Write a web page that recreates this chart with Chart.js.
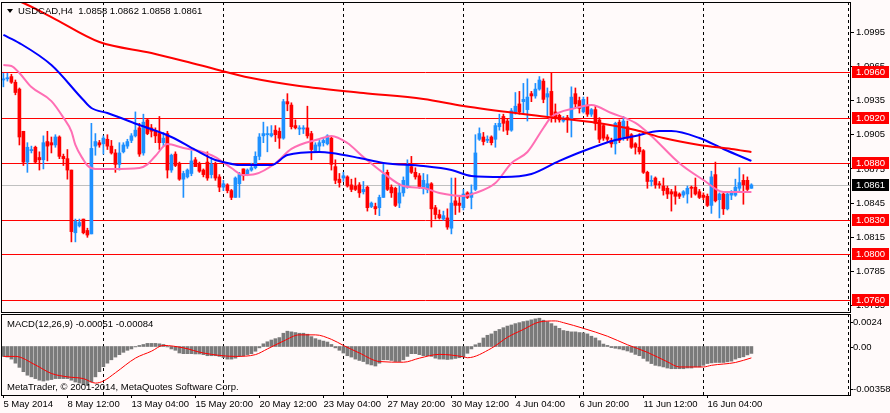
<!DOCTYPE html>
<html>
<head>
<meta charset="utf-8">
<title>USDCAD,H4</title>
<script src="https://cdn.jsdelivr.net/npm/chart.js@4.4.1/dist/chart.umd.min.js"></script>
<style>
  html, body { margin: 0; padding: 0; background: #fffafa; }
  #wrap { position: relative; width: 890px; height: 413px; overflow: hidden; background: #fffafa; }
  #priceChart { position: absolute; left: 0; top: 0; }
  #macdChart { position: absolute; left: 0; top: 313px; }
</style>
</head>
<body>
<div id="wrap">
  <canvas id="priceChart" width="890" height="313"></canvas>
  <canvas id="macdChart" width="890" height="100"></canvas>
</div>
<script>
// USDCAD H4 candles (one entry per bar)
const opens = [
  1.0953,1.0954,1.0956,1.0951,1.0945,1.0908,1.0881,1.0891,1.0894,1.0885,
  1.0883,1.0899,1.0898,1.0896,1.0903,1.0886,1.0884,1.0874,1.0819,1.0825,
  1.0831,1.0821,1.0818,1.0895,1.0898,1.0897,1.0901,1.0895,1.0889,1.0879,
  1.0890,1.0895,1.0900,1.0904,1.0911,1.0889,1.0918,1.0911,1.0908,1.0906,
  1.0898,1.0906,1.0874,1.0888,1.0880,1.0866,1.0868,1.0871,1.0883,1.0879,
  1.0874,1.0881,1.0870,1.0879,1.0868,1.0859,1.0861,1.0856,1.0850,1.0862,
  1.0875,1.0870,1.0874,1.0876,1.0886,1.0904,1.0905,1.0904,1.0909,1.0908,
  1.0902,1.0934,1.0931,1.0913,1.0910,1.0910,1.0911,1.0906,1.0891,1.0895,
  1.0898,1.0897,1.0902,1.0877,1.0866,1.0867,1.0868,1.0861,1.0860,1.0861,
  1.0855,1.0859,1.0842,1.0842,1.0841,1.0850,1.0872,1.0859,1.0858,1.0845,
  1.0854,1.0859,1.0877,1.0872,1.0869,1.0858,1.0857,1.0862,1.0841,1.0835,
  1.0831,1.0832,1.0823,1.0847,1.0845,1.0841,1.0854,1.0850,1.0857,1.0901,
  1.0903,1.0900,1.0903,1.0901,1.0912,1.0921,1.0917,1.0909,1.0925,1.0932,
  1.0934,1.0927,1.0941,1.0939,1.0945,1.0952,1.0938,1.0943,1.0925,1.0922,
  1.0917,1.0920,1.0918,1.0941,1.0935,1.0925,1.0931,1.0923,1.0927,1.0918,
  1.0913,1.0903,1.0900,1.0897,1.0916,1.0903,1.0912,1.0905,1.0897,1.0894,
  1.0891,1.0872,1.0864,1.0867,1.0862,1.0860,1.0858,1.0855,1.0855,1.0853,
  1.0852,1.0853,1.0859,1.0859,1.0855,1.0852,1.0851,1.0843,1.0870,1.0848,
  1.0853,1.0840,1.0852,1.0852,1.0858,1.0865,1.0865,1.0858
];
const highs = [
  1.0959,1.0959,1.0958,1.0953,1.0946,1.0908,1.0898,1.0895,1.0895,1.0890,
  1.0904,1.0908,1.0903,1.0905,1.0904,1.0888,1.0892,1.0874,1.0831,1.0831,
  1.0831,1.0823,1.0915,1.0906,1.0900,1.0904,1.0905,1.0900,1.0892,1.0898,
  1.0898,1.0901,1.0906,1.0925,1.0915,1.0923,1.0919,1.0914,1.0911,1.0921,
  1.0907,1.0908,1.0888,1.0890,1.0881,1.0873,1.0875,1.0891,1.0885,1.0881,
  1.0875,1.0890,1.0885,1.0881,1.0870,1.0865,1.0862,1.0857,1.0868,1.0872,
  1.0875,1.0875,1.0880,1.0890,1.0906,1.0916,1.0912,1.0913,1.0913,1.0911,
  1.0936,1.0941,1.0933,1.0918,1.0913,1.0913,1.0930,1.0908,1.0898,1.0900,
  1.0902,1.0905,1.0903,1.0883,1.0871,1.0872,1.0869,1.0866,1.0867,1.0863,
  1.0864,1.0860,1.0846,1.0845,1.0852,1.0880,1.0874,1.0861,1.0859,1.0862,
  1.0868,1.0883,1.0886,1.0876,1.0871,1.0871,1.0870,1.0863,1.0843,1.0839,
  1.0838,1.0840,1.0867,1.0867,1.0850,1.0857,1.0855,1.0861,1.0905,1.0911,
  1.0907,1.0904,1.0904,1.0915,1.0923,1.0923,1.0919,1.0928,1.0942,1.0943,
  1.0950,1.0954,1.0943,1.0950,1.0956,1.0954,1.0946,1.0959,1.0932,1.0923,
  1.0921,1.0922,1.0947,1.0946,1.0938,1.0938,1.0938,1.0928,1.0930,1.0920,
  1.0914,1.0905,1.0902,1.0916,1.0918,1.0921,1.0917,1.0906,1.0898,1.0906,
  1.0892,1.0873,1.0869,1.0868,1.0864,1.0867,1.0860,1.0857,1.0860,1.0854,
  1.0856,1.0860,1.0860,1.0867,1.0857,1.0854,1.0853,1.0873,1.0881,1.0854,
  1.0854,1.0854,1.0856,1.0866,1.0876,1.0870,1.0868,1.0862
];
const lows = [
  1.0947,1.0952,1.0950,1.0940,1.0896,1.0878,1.0872,1.0889,1.0880,1.0874,
  1.0875,1.0882,1.0889,1.0894,1.0884,1.0878,1.0866,1.0811,1.0811,1.0824,
  1.0818,1.0815,1.0818,1.0887,1.0894,1.0888,1.0892,1.0888,1.0872,1.0874,
  1.0889,1.0893,1.0898,1.0903,1.0886,1.0887,1.0905,1.0903,1.0898,1.0892,
  1.0895,1.0867,1.0872,1.0877,1.0865,1.0850,1.0867,1.0869,1.0877,1.0872,
  1.0868,1.0865,1.0867,1.0865,1.0855,1.0856,1.0854,1.0848,1.0850,1.0850,
  1.0865,1.0869,1.0873,1.0875,1.0883,1.0898,1.0890,1.0903,1.0899,1.0893,
  1.0901,1.0926,1.0910,1.0910,1.0905,1.0906,1.0902,1.0883,1.0890,1.0891,
  1.0895,1.0896,1.0874,1.0862,1.0859,1.0864,1.0859,1.0855,1.0856,1.0850,
  1.0853,1.0838,1.0841,1.0835,1.0834,1.0850,1.0856,1.0850,1.0842,1.0841,
  1.0851,1.0858,1.0871,1.0866,1.0858,1.0853,1.0854,1.0824,1.0831,1.0831,
  1.0830,1.0822,1.0818,1.0835,1.0837,1.0839,1.0849,1.0840,1.0856,1.0900,
  1.0896,1.0898,1.0896,1.0894,1.0909,1.0908,1.0905,1.0908,1.0923,1.0923,
  1.0924,1.0917,1.0934,1.0937,1.0944,1.0933,1.0921,1.0916,1.0916,1.0916,
  1.0916,1.0907,1.0903,1.0929,1.0924,1.0924,1.0921,1.0921,1.0909,1.0898,
  1.0900,1.0898,1.0894,1.0888,1.0898,1.0900,1.0900,1.0893,1.0888,1.0888,
  1.0871,1.0858,1.0860,1.0858,1.0858,1.0852,1.0849,1.0838,1.0844,1.0849,
  1.0850,1.0845,1.0850,1.0852,1.0849,1.0848,1.0842,1.0836,1.0846,1.0832,
  1.0835,1.0839,1.0848,1.0851,1.0856,1.0844,1.0856,1.0858
];
const closes = [
  1.0954,1.0955,1.0951,1.0942,1.0903,1.0881,1.0894,1.0892,1.0881,1.0883,
  1.0898,1.0895,1.0896,1.0903,1.0886,1.0884,1.0874,1.0820,1.0829,1.0828,
  1.0819,1.0817,1.0893,1.0899,1.0896,1.0902,1.0895,1.0889,1.0879,1.0889,
  1.0896,1.0899,1.0904,1.0909,1.0888,1.0916,1.0906,1.0908,1.0904,1.0898,
  1.0902,1.0874,1.0887,1.0878,1.0866,1.0871,1.0874,1.0882,1.0877,1.0873,
  1.0870,1.0867,1.0879,1.0867,1.0859,1.0862,1.0856,1.0850,1.0867,1.0870,
  1.0869,1.0874,1.0876,1.0886,1.0903,1.0906,1.0906,1.0906,1.0905,1.0902,
  1.0934,1.0932,1.0912,1.0911,1.0911,1.0911,1.0904,1.0892,1.0896,1.0898,
  1.0900,1.0904,1.0879,1.0865,1.0863,1.0869,1.0860,1.0857,1.0857,1.0854,
  1.0857,1.0841,1.0845,1.0840,1.0850,1.0870,1.0857,1.0854,1.0843,1.0854,
  1.0865,1.0879,1.0872,1.0868,1.0859,1.0865,1.0862,1.0840,1.0835,1.0832,
  1.0834,1.0824,1.0845,1.0843,1.0843,1.0853,1.0850,1.0854,1.0889,1.0906,
  1.0899,1.0901,1.0898,1.0913,1.0915,1.0915,1.0909,1.0926,1.0930,1.0925,
  1.0936,1.0938,1.0939,1.0945,1.0953,1.0936,1.0941,1.0922,1.0919,1.0918,
  1.0919,1.0918,1.0938,1.0932,1.0928,1.0936,1.0923,1.0927,1.0915,1.0901,
  1.0902,1.0901,1.0897,1.0915,1.0900,1.0917,1.0902,1.0894,1.0894,1.0890,
  1.0872,1.0864,1.0865,1.0861,1.0861,1.0856,1.0853,1.0853,1.0851,1.0851,
  1.0855,1.0858,1.0858,1.0853,1.0850,1.0850,1.0843,1.0868,1.0847,1.0853,
  1.0840,1.0853,1.0854,1.0859,1.0863,1.0861,1.0857,1.0861
];

// moving averages: [bar, price]
const slowMa = [
  [0,1.1027],[5,1.10205],[12,1.10082],[24,1.09863],[37,1.09767],[49,1.09661],
  [62,1.09547],[74,1.09477],[90,1.09416],[105,1.09363],[115,1.09302],[132,1.09223],
  [147,1.09161],[158,1.09091],[165,1.09021],[174,1.08960],[182,1.08925],[187,1.08898]
];
const midMa = [
  [0,1.09925],[4,1.09854],[12,1.09661],[20,1.09354],[22,1.09284],[26,1.0924],
  [34,1.09135],[42,1.0903],[48,1.08916],[53,1.08828],[55,1.0881],[59,1.08784],
  [67,1.08784],[71,1.08872],[79,1.08898],[82,1.0889],[89,1.08846],[95,1.08802],
  [105,1.08775],[112,1.0874],[117,1.08688],[125,1.08679],[132,1.08705],[139,1.0882],
  [145,1.08907],[153,1.09003],[158,1.09039],[164,1.09082],[167,1.09082],[174,1.09021],
  [180,1.08925],[187,1.0882]
];
const fastMa = [
  [0,1.09661],[2,1.09653],[4,1.09591],[7,1.09468],[12,1.09345],[15,1.0920],
  [17,1.0908],[18,1.0896],[20,1.0883],[21,1.0878],[23,1.08749],[27,1.08749],
  [34,1.08758],[36,1.0879],[38,1.08863],[41,1.08968],[45,1.08933],[49,1.08907],
  [53,1.08854],[57,1.08758],[60,1.08696],[63,1.08705],[68,1.0880],[72,1.08925],
  [79,1.09012],[82,1.09039],[86,1.08977],[90,1.08854],[95,1.08714],[100,1.086],
  [105,1.08582],[109,1.08539],[115,1.08512],[118,1.08539],[123,1.08626],[127,1.0880],
  [131,1.08898],[135,1.09109],[137,1.09205],[143,1.09284],[147,1.09311],[152,1.0924],
  [158,1.09153],[162,1.09039],[169,1.0880],[175,1.08653],[180,1.08547],[187,1.08547]
];

// MACD(12,26,9) histogram, one value per bar, and signal line samples
const macdHist = [
  -0.00073,-0.00078,-0.00093,-0.00123,-0.00154,-0.00186,-0.00212,-0.00224,-0.00237,-0.00249,
  -0.00255,-0.00249,-0.00244,-0.00237,-0.00237,-0.00237,-0.00237,-0.00249,-0.00262,-0.00270,
  -0.00280,-0.00287,-0.00262,-0.00224,-0.00186,-0.00149,-0.00123,-0.00098,-0.00078,-0.00060,
  -0.00043,-0.00028,-0.00018,-0.00003,0.00008,0.00015,0.00023,0.00023,0.00023,0.00020,
  0.00015,-0.00003,-0.00018,-0.00028,-0.00048,-0.00053,-0.00053,-0.00053,-0.00055,-0.00055,
  -0.00060,-0.00068,-0.00068,-0.00068,-0.00073,-0.00081,-0.00093,-0.00093,-0.00086,-0.00073,
  -0.00068,-0.00060,-0.00053,-0.00035,-0.00010,0.00020,0.00035,0.00048,0.00058,0.00066,
  0.00098,0.00113,0.00108,0.00103,0.00098,0.00098,0.00091,0.00073,0.00058,0.00048,
  0.00040,0.00033,0.00015,-0.00010,-0.00028,-0.00048,-0.00068,-0.00078,-0.00093,-0.00103,
  -0.00111,-0.00129,-0.00136,-0.00144,-0.00123,-0.00098,-0.00098,-0.00103,-0.00111,-0.00111,
  -0.00098,-0.00073,-0.00053,-0.00053,-0.00060,-0.00068,-0.00068,-0.00073,-0.00086,-0.00093,
  -0.00093,-0.00096,-0.00093,-0.00088,-0.00083,-0.00076,-0.00050,-0.00018,0.00013,0.00025,
  0.00063,0.00083,0.00093,0.00113,0.00126,0.00139,0.00151,0.00159,0.00169,0.00176,
  0.00184,0.00189,0.00197,0.00204,0.00209,0.00194,0.00184,0.00169,0.00151,0.00134,
  0.00118,0.00113,0.00108,0.00108,0.00103,0.00101,0.00093,0.00076,0.00063,0.00043,
  0.00018,0.00008,-0.00008,-0.00013,-0.00018,-0.00025,-0.00033,-0.00043,-0.00058,-0.00068,
  -0.00088,-0.00108,-0.00126,-0.00139,-0.00144,-0.00151,-0.00159,-0.00164,-0.00164,-0.00164,
  -0.00164,-0.00159,-0.00159,-0.00151,-0.00151,-0.00139,-0.00126,-0.00121,-0.00118,-0.00118,
  -0.00118,-0.00113,-0.00108,-0.00093,-0.00083,-0.00076,-0.00062,-0.00051
];
const macdSignal = [
  [0,-0.00073],[3,-0.00073],[8,-0.00136],[12,-0.00199],[16,-0.00224],[20,-0.00237],
  [23,-0.00270],[25,-0.00255],[28,-0.00194],[33,-0.00086],[37,-0.00035],[40,0.00008],
  [45,-0.00010],[50,-0.00048],[58,-0.00073],[63,-0.00060],[66,-0.00018],[70,0.00040],
  [74,0.00086],[78,0.00086],[82,0.00053],[85,0.00008],[89,-0.00048],[94,-0.00111],
  [100,-0.00116],[104,-0.00086],[109,-0.00058],[115,-0.00076],[116,-0.00083],[122,-0.00013],
  [126,0.00068],[130,0.00126],[134,0.00181],[138,0.00189],[140,0.00176],[145,0.00134],
  [151,0.00076],[156,0.00013],[161,-0.00043],[166,-0.00113],[169,-0.00151],[175,-0.00151],
  [177,-0.00139],[183,-0.00118],[187,-0.00084]
];

// axes / annotations
const priceTicks = [1.0755, 1.0785, 1.0815, 1.0845, 1.0875, 1.0905, 1.0935, 1.0965, 1.0995];
const levels = [1.0960, 1.0920, 1.0880, 1.0830, 1.0800, 1.0760];
const bidPrice = 1.0861;
const macdTicks = [0.0024, 0, -0.00358];
const macdTickText = ['0.0024', '0.00', '-0.00358'];
const dateTickBars = [0, 16, 32, 48, 64, 80, 96, 112, 128, 144, 160, 176];
const dateLabels = ['5 May 2014', '8 May 12:00', '13 May 04:00', '15 May 20:00', '20 May 12:00',
  '23 May 04:00', '27 May 20:00', '30 May 12:00', '4 Jun 04:00', '6 Jun 20:00',
  '11 Jun 12:00', '16 Jun 04:00'];
const weekStarts = [25, 55, 85, 115, 145, 175];  // Monday 00:00 bars

const titleText = 'USDCAD,H4  1.0858 1.0862 1.0858 1.0861';
const macdTitle = 'MACD(12,26,9) -0.00051 -0.00084';
const copyright = 'MetaTrader, \u00A9 2001-2014, MetaQuotes Software Corp.';

const FONT = '9.5px "Liberation Sans", Arial, sans-serif';
const BULL = 'rgb(30,144,255)';
const BEAR = 'rgb(255,0,0)';
const X_MIN = -0.6, X_MAX = 211.65;

Chart.defaults.font.family = '"Liberation Sans", Arial, sans-serif';
Chart.defaults.font.size = 9.5;
Chart.defaults.color = '#000';

function toPts(arr) {
    return arr.map(p => ({ x: p[0], y: p[1] }));
}

// keep the plot area glued to the pane edges (no label overflow padding)
function fitRightAxis(s) {
    s.width = 40;
    s.paddingTop = 0;
    s.paddingBottom = 0;
}

// dashed weekly separators + the one near the price scale
function drawWeekLines(chart) {
    const { ctx, chartArea: a, scales: { x } } = chart;
    ctx.save();
    ctx.strokeStyle = '#000';
    ctx.lineWidth = 1;
    ctx.setLineDash([3, 3]);
    const xs = weekStarts.map(i => Math.round(x.getPixelForValue(i)) + 0.5);
    xs.push(a.right - 1.5);
    xs.forEach(px => {
        ctx.beginPath();
        ctx.moveTo(px, a.top);
        ctx.lineTo(px, a.bottom);
        ctx.stroke();
    });
    ctx.restore();
}

function drawFrame(chart) {
    const { ctx, chartArea: a } = chart;
    ctx.save();
    ctx.strokeStyle = '#000';
    ctx.lineWidth = 1;
    ctx.strokeRect(a.left + 0.5, a.top + 0.5, a.right - a.left, a.bottom - a.top);
    ctx.restore();
}

const priceDecor = {
    id: 'priceDecor',
    beforeDatasetsDraw(chart) {
        const { ctx, chartArea: a, scales: { y } } = chart;
        drawWeekLines(chart);
        ctx.save();
        ctx.lineWidth = 1;
        ctx.strokeStyle = '#c0c0c0';
        let py = Math.round(y.getPixelForValue(bidPrice)) + 0.5;
        ctx.beginPath(); ctx.moveTo(a.left, py); ctx.lineTo(a.right, py); ctx.stroke();
        ctx.strokeStyle = '#ff0000';
        levels.forEach(v => {
            py = Math.round(y.getPixelForValue(v)) + 0.5;
            ctx.beginPath(); ctx.moveTo(a.left, py); ctx.lineTo(a.right, py); ctx.stroke();
        });
        ctx.restore();
    },
    afterDraw(chart) {
        const { ctx, chartArea: a, scales: { y } } = chart;
        drawFrame(chart);
        ctx.save();
        ctx.font = FONT;
        ctx.textBaseline = 'middle';
        ctx.textAlign = 'left';
        // level price tags
        levels.forEach(v => {
            const py = Math.round(y.getPixelForValue(v));
            ctx.fillStyle = '#ff0000';
            ctx.fillRect(a.right + 2, py - 6, 37, 12);
            ctx.fillStyle = '#ffffff';
            ctx.fillText(v.toFixed(4), a.right + 6, py + 0.5);
        });
        const bp = Math.round(y.getPixelForValue(bidPrice));
        ctx.fillStyle = '#000';
        ctx.fillRect(a.right + 2, bp - 6, 37, 12);
        ctx.fillStyle = '#fff';
        ctx.fillText(bidPrice.toFixed(4), a.right + 6, bp + 0.5);
        // symbol header
        ctx.fillStyle = '#000';
        ctx.beginPath();
        ctx.moveTo(7, 9); ctx.lineTo(13, 9); ctx.lineTo(10, 13); ctx.closePath();
        ctx.fill();
        ctx.fillText(titleText, 18, 11);
        ctx.restore();
    }
};

const macdDecor = {
    id: 'macdDecor',
    beforeDatasetsDraw(chart) {
        drawWeekLines(chart);
    },
    afterDraw(chart) {
        const { ctx, chartArea: a, scales: { y } } = chart;
        drawFrame(chart);
        ctx.save();
        ctx.font = FONT;
        ctx.fillStyle = '#000';
        ctx.strokeStyle = '#000';
        ctx.textBaseline = 'middle';
        ctx.textAlign = 'left';
        macdTicks.forEach((v, k) => {
            let py = y.getPixelForValue(v);
            py = Math.min(Math.max(py, a.top + 8), a.bottom - 6);
            py = Math.round(py);
            ctx.beginPath();
            ctx.moveTo(a.right, py + 0.5);
            ctx.lineTo(a.right + 3, py + 0.5);
            ctx.stroke();
            ctx.fillText(macdTickText[k], a.right + 3, py + 0.5);
        });
        ctx.fillText(macdTitle, 7, a.top + 10);
        ctx.fillText(copyright, 7, a.bottom - 8);
        ctx.restore();
    }
};

const candleColors = opens.map((o, i) => closes[i] >= o ? BULL : BEAR);

new Chart(document.getElementById('priceChart'), {
    type: 'bar',
    data: {
        datasets: [
            {
                label: 'wick',
                data: highs.map((h, i) => ({ x: i, y: [lows[i], h] })),
                backgroundColor: candleColors,
                barThickness: 1,
                grouped: false,
                order: 3
            },
            {
                label: 'body',
                data: opens.map((o, i) => ({ x: i, y: [o, closes[i]] })),
                backgroundColor: candleColors,
                barThickness: 3,
                minBarLength: 1,
                grouped: false,
                order: 2
            },
            {
                type: 'line', label: 'MA slow', data: toPts(slowMa),
                borderColor: '#ff0000', borderWidth: 2, pointRadius: 0,
                cubicInterpolationMode: 'monotone', clip: 0, order: 1
            },
            {
                type: 'line', label: 'MA mid', data: toPts(midMa),
                borderColor: '#0000ff', borderWidth: 2, pointRadius: 0,
                cubicInterpolationMode: 'monotone', clip: 0, order: 1
            },
            {
                type: 'line', label: 'MA fast', data: toPts(fastMa),
                borderColor: '#ff6eb4', borderWidth: 2, pointRadius: 0,
                cubicInterpolationMode: 'monotone', clip: 0, order: 1
            }
        ]
    },
    options: {
        responsive: false,
        animation: false,
        events: [],
        layout: { padding: { left: 1, top: 2, right: 0, bottom: 1 } },
        plugins: { legend: { display: false }, tooltip: { enabled: false } },
        scales: {
            x: {
                type: 'linear', min: X_MIN, max: X_MAX, offset: false,
                display: false,
                grid: { display: false, offset: false }
            },
            y: {
                position: 'right',
                min: 1.07495, max: 1.10214,
                afterBuildTicks: s => { s.ticks = priceTicks.map(v => ({ value: v })); },
                afterFit: fitRightAxis,
                ticks: { callback: v => Number(v).toFixed(4), padding: 2, color: '#000' },
                grid: { drawOnChartArea: false, drawTicks: true, tickLength: 4, tickColor: '#000' },
                border: { display: false }
            }
        }
    },
    plugins: [priceDecor]
});

new Chart(document.getElementById('macdChart'), {
    type: 'bar',
    data: {
        datasets: [
            {
                label: 'MACD',
                data: macdHist.map((v, i) => ({ x: i, y: v })),
                backgroundColor: '#7a7a7a',
                barThickness: 3,
                grouped: false,
                order: 2
            },
            {
                type: 'line', label: 'Signal', data: toPts(macdSignal),
                borderColor: '#ff0000', borderWidth: 1, pointRadius: 0,
                cubicInterpolationMode: 'monotone', clip: 0, order: 1
            }
        ]
    },
    options: {
        responsive: false,
        animation: false,
        events: [],
        layout: { padding: { left: 1, top: 1, right: 0, bottom: 0 } },
        plugins: { legend: { display: false }, tooltip: { enabled: false } },
        scales: {
            x: {
                type: 'linear', min: X_MIN, max: X_MAX, offset: false,
                afterBuildTicks: s => { s.ticks = dateTickBars.map(v => ({ value: v })); },
                afterFit: s => { s.height = 18; s.paddingLeft = 0; s.paddingRight = 0; },
                ticks: {
                    autoSkip: false, maxRotation: 0, minRotation: 0, align: 'start', padding: 1,
                    color: '#000',
                    callback: v => dateLabels[dateTickBars.indexOf(v)]
                },
                grid: { drawOnChartArea: false, drawTicks: true, tickLength: 3, tickColor: '#000', offset: false },
                border: { display: false }
            },
            y: {
                position: 'right',
                min: -0.00358, max: 0.0024,
                afterFit: fitRightAxis,
                ticks: { display: false },
                grid: { display: false },
                border: { display: false }
            }
        }
    },
    plugins: [macdDecor]
});
</script>
</body>
</html>
